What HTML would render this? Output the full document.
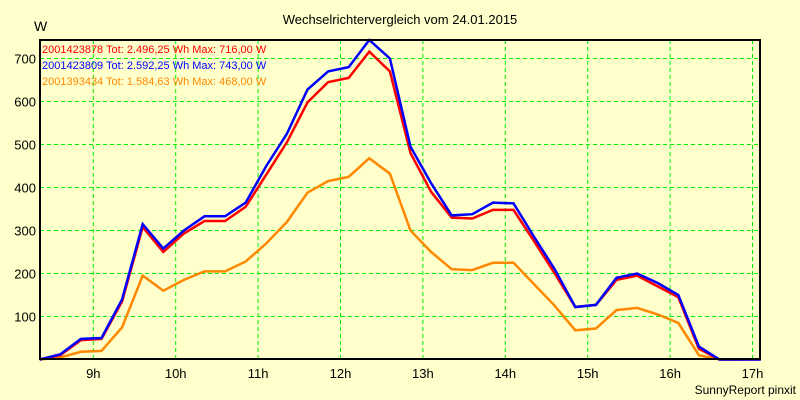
<!DOCTYPE html>
<html><head><meta charset="utf-8"><style>
body{margin:0;background:#ffffcc;}
svg{display:block;font-family:"Liberation Sans",sans-serif;}
</style></head><body>
<svg id="c" width="800" height="400">
<rect width="800" height="400" fill="#ffffcc"/>
<text x="400" y="24" font-size="13" text-anchor="middle">Wechselrichtervergleich vom 24.01.2015</text>
<text x="34" y="31" font-size="14">W</text>
<text x="796" y="394" font-size="12" text-anchor="end">SunnyReport pinxit</text>
<g id="grid"></g><g id="series"></g>
<rect x="40" y="40" width="720" height="319" fill="none" stroke="#000" stroke-width="2"/>
<g font-size="11">
<text x="42" y="53" fill="#ff0000">2001423878 Tot: 2.496,25 Wh Max: 716,00 W</text>
<text x="42" y="69" fill="#0000ff">2001423809 Tot: 2.592,25 Wh Max: 743,00 W</text>
<text x="42" y="85" fill="#ff8800">2001393434 Tot: 1.584,63 Wh Max: 468,00 W</text>
</g>
</svg>
<script>
const hourTicks=[9,10,11,12,13,14,15,16,17];
const yTicks=[100,200,300,400,500,600,700];
const startHour=8.35, stepHour=0.25;
const red=[0,10,45,48,135,308,250,293,322,322,355,430,505,598,645,655,716,670,480,390,330,328,348,348,275,200,122,127,185,195,170,145,25,0,0,0];
const blue=[0,12,48,50,140,315,258,300,333,333,365,450,525,628,670,680,743,700,495,410,335,338,365,363,285,210,122,127,190,200,178,150,30,0,0,0];
const orange=[0,5,18,20,75,195,160,185,205,205,228,270,320,388,415,425,468,432,300,250,210,208,225,225,175,125,68,72,115,120,105,85,10,0,0];
const X=h=>93.3+(h-9)*82.4, Y=v=>359.5-v*0.43;
const NS="http://www.w3.org/2000/svg";
const g=document.getElementById('grid'), s=document.getElementById('series'), svg=document.getElementById('c');
hourTicks.forEach(h=>{
 const l=document.createElementNS(NS,'line');
 l.setAttribute('x1',X(h));l.setAttribute('x2',X(h));l.setAttribute('y1',40);l.setAttribute('y2',359);
 l.setAttribute('stroke','#00ee00');l.setAttribute('stroke-dasharray','4,3');
 
 
 g.appendChild(l);
 const t=document.createElementNS(NS,'text');
 t.setAttribute('x',X(h));t.setAttribute('y',378);t.setAttribute('font-size','13');t.setAttribute('text-anchor','middle');
 t.textContent=h+'h';
 
 
 svg.appendChild(t);
});
yTicks.forEach(v=>{
 const l=document.createElementNS(NS,'line');
 l.setAttribute('x1',40);l.setAttribute('x2',760);l.setAttribute('y1',Y(v));l.setAttribute('y2',Y(v));
 l.setAttribute('stroke','#00ee00');l.setAttribute('stroke-dasharray','4,3');
 
 
 g.appendChild(l);
 const t=document.createElementNS(NS,'text');
 t.setAttribute('x',36);t.setAttribute('y',Y(v)+5);t.setAttribute('font-size','13');t.setAttribute('text-anchor','end');
 t.textContent=v;
 
 
 svg.appendChild(t);
});
[[orange,'#ff8800','series-orange'],[red,'#ff0000','series-red'],[blue,'#0000ff','series-blue']].forEach(([d,c,n])=>{
 const p=document.createElementNS(NS,'polyline');
 p.setAttribute('points',d.map((v,i)=>X(startHour+i*stepHour).toFixed(1)+','+Y(v).toFixed(1)).join(' '));
 p.setAttribute('fill','none');p.setAttribute('stroke',c);p.setAttribute('stroke-width','2.5');
 
 
 s.appendChild(p);
});
</script>
</body></html>
